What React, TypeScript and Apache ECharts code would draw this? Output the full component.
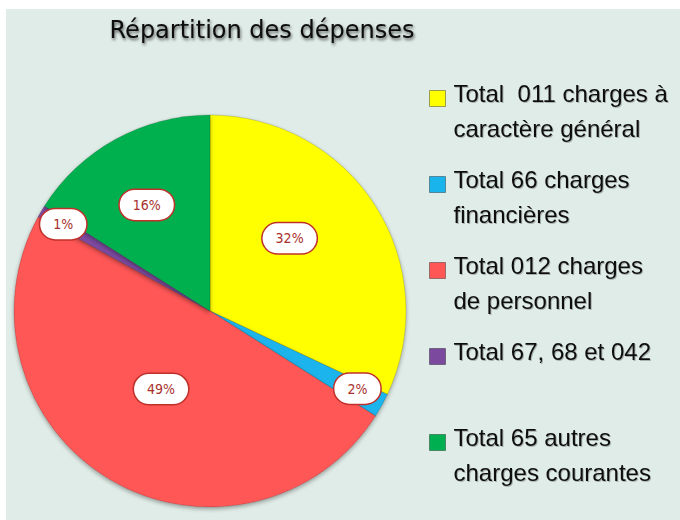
import React, { useEffect, useRef } from "react";
import * as echarts from "echarts";

const categories = [
  "Total  011 charges à\ncaractère général",
  "Total 66 charges\nfinancières",
  "Total 012 charges\nde personnel",
  "Total 67, 68 et 042",
  "Total 65 autres\ncharges courantes",
];
const values = [32, 2, 49, 1, 16];

const colors = ["#ffff00", "#1ab4ec", "#ff5656", "#7b4a9f", "#00b050"];
// label placement style: radial fraction and angular shift (degrees)
const labelPlacement = [
  { k: 0.55, shift: -10 },
  { k: 0.85, shift: -1 },
  { k: 0.47, shift: 1.5 },
  { k: 0.87, shift: 0 },
  { k: 0.63, shift: -2 },
];

const CX = 204;
const CY = 302;
const R = 196;

const legendFont = {
  fontFamily: "'Liberation Sans', Arial, sans-serif",
  fontSize: 24,
  color: "#111",
  textShadowColor: "rgba(0,0,0,0.25)",
  textShadowBlur: 1,
  textShadowOffsetX: 1,
  textShadowOffsetY: 1,
};

export default function App() {
  const ref = useRef<HTMLDivElement>(null);
  useEffect(() => {
    if (!ref.current) return;
    const chart = echarts.init(ref.current, undefined, { renderer: "svg" });
    const total = values.reduce((a, b) => a + b, 0);
    const mids: number[] = [];
    let acc = 0;
    values.forEach((v) => {
      mids.push(((acc + v / 2) / total) * 360);
      acc += v;
    });
    chart.setOption({
      animation: false,
      backgroundColor: "#e0ece7",
      title: {
        text: "Répartition des dépenses",
        left: 256,
        top: 9,
        padding: 0,
        textAlign: "center",
        textStyle: {
          fontFamily: "'DejaVu Sans', sans-serif",
          fontSize: 24,
          fontWeight: "normal",
          color: "#0a0a0a",
          textShadowColor: "rgba(0,0,0,0.6)",
          textShadowBlur: 3,
          textShadowOffsetX: 1,
          textShadowOffsetY: 2,
        },
      },
      legend: {
        orient: "vertical",
        left: 423,
        top: 42.5,
        padding: 0,
        itemGap: -3,
        itemWidth: 16,
        itemHeight: 16,
        icon: "rect",
        selectedMode: false,
        data: categories,
        formatter: (name: string) => {
          const parts = name.split("\n");
          const l1 = parts[0];
          const l2 = parts[1] || " ";
          return "{e| }\n{t|" + l1 + "}\n{t|" + l2 + "}";
        },
        itemStyle: {
          borderColor: "rgba(0,0,0,0.35)",
          borderWidth: 1,
        },
        textStyle: {
          ...legendFont,
          padding: [0, 0, 0, 3],
          rich: {
            e: { ...legendFont, lineHeight: 25 },
            t: { ...legendFont, lineHeight: 35 },
          },
        },
      },
      series: [
        {
          type: "pie",
          center: [CX, CY],
          radius: R,
          startAngle: 90,
          clockwise: true,
          data: categories.map((c, i) => ({
            name: c,
            value: values[i],
            itemStyle: { color: colors[i] },
          })),
          itemStyle: {
            borderColor: "rgba(0,0,0,0.15)",
            borderWidth: 1,
            shadowColor: "rgba(0,0,0,0.35)",
            shadowBlur: 4,
            shadowOffsetY: 2,
          },
          label: {
            show: true,
            position: "inside",
            formatter: (p: any) => Math.round(p.percent) + "%",
            fontFamily: "'DejaVu Sans Condensed', 'DejaVu Sans', sans-serif",
            fontSize: 14,
            color: "#a8302c",
            backgroundColor: "#ffffff",
            borderColor: "#c0302a",
            borderWidth: 1.5,
            borderRadius: 15,
            padding: [8, 13],
          },
          labelLine: { show: false },
          labelLayout: (params: any) => {
            const i = params.dataIndex;
            const pl = labelPlacement[i];
            const a = ((mids[i] + pl.shift) * Math.PI) / 180;
            return {
              x: CX + R * pl.k * Math.sin(a),
              y: CY - R * pl.k * Math.cos(a),
              align: "center",
              verticalAlign: "middle",
            };
          },
          emphasis: { disabled: true },
        },
      ],
    });
    return () => chart.dispose();
  }, []);
  return (
    <div
      ref={ref}
      style={{
        position: "absolute",
        left: 6,
        top: 9,
        width: 674,
        height: 511,
      }}
    />
  );
}
